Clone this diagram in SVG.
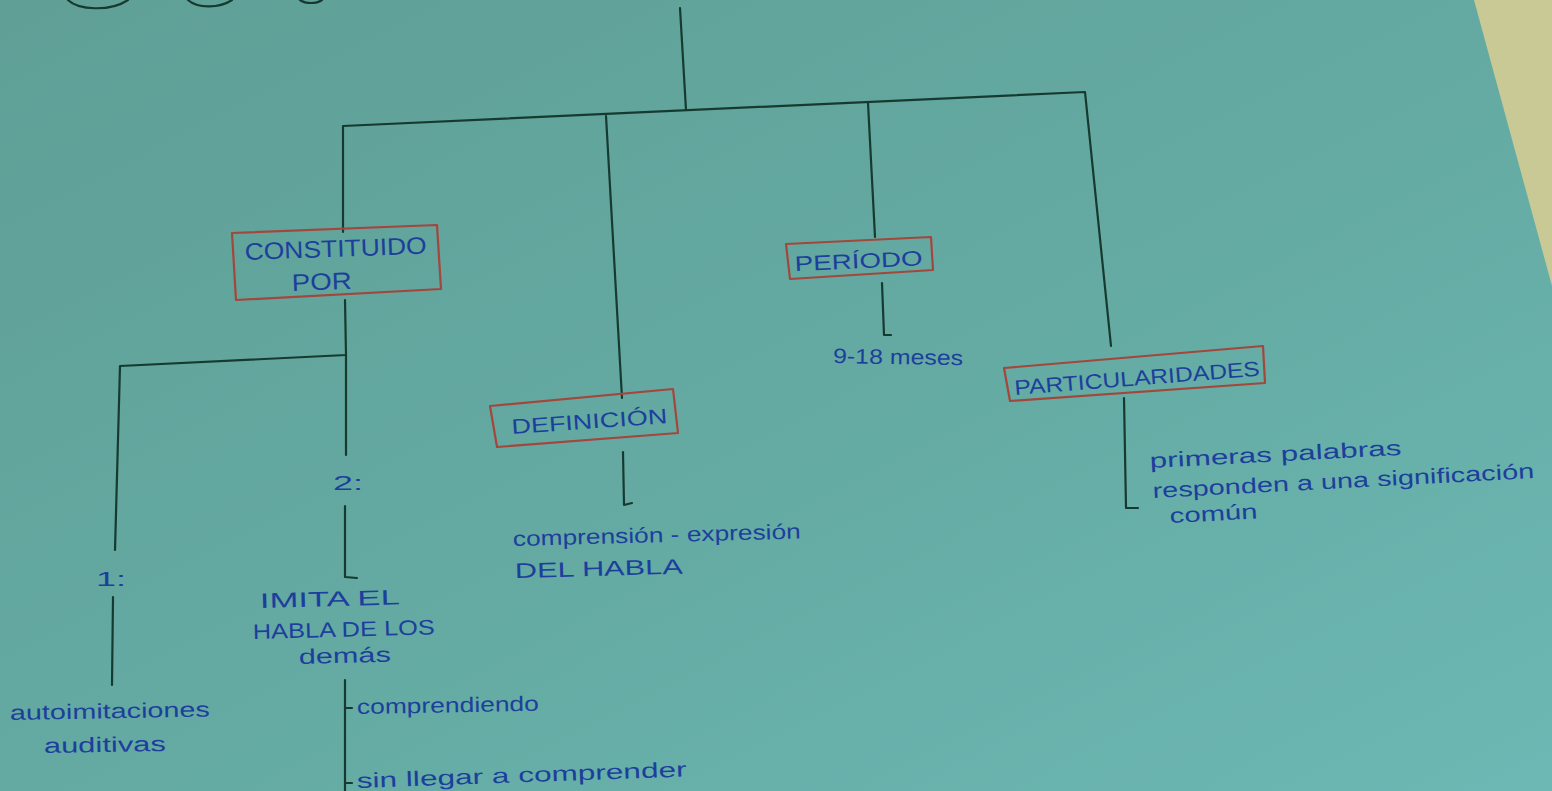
<svg xmlns="http://www.w3.org/2000/svg" width="1552" height="791" viewBox="0 0 1552 791">
<defs>
<linearGradient id="paper" x1="0" y1="0" x2="1" y2="1">
<stop offset="0" stop-color="#5f9f96"/>
<stop offset="0.6" stop-color="#65aca5"/>
<stop offset="1" stop-color="#6db8b4"/>
</linearGradient>
<style>
.ln{fill:none;stroke:#163a30;stroke-width:2.2;stroke-linecap:round;stroke-linejoin:round}
.box{fill:none;stroke:#a3463c;stroke-width:2.2;stroke-linejoin:round}
.t{font-family:"Liberation Sans",Arial,sans-serif;fill:#1d3f9c;font-size:21px}
.tb{font-family:"Liberation Sans",Arial,sans-serif;fill:#1d3f9c;font-size:24px}
</style>
</defs>
<rect x="0" y="0" width="1552" height="791" fill="url(#paper)"/>
<polygon points="1474,0 1552,0 1552,286" fill="#c8c994"/>
<g id="title-remnant" class="ln">
<path d="M68,0 C78,10 110,12 128,0"/>
<path d="M188,0 C198,9 220,8 232,0"/>
<path d="M300,0 C306,4 316,4 322,0"/>
</g>
<g id="connectors" class="ln">
<path d="M680,8 L686,110"/>
<path d="M343,232 L343,126 L1085,92 L1111,346"/>
<path d="M606,116 L622,398"/>
<path d="M868,103 L875,237"/>
<path d="M345,300 L346,355 L120,366 L115,550"/>
<path d="M346,355 L346,455"/>
<path d="M345,506 L345,577 L357,578"/>
<path d="M113,597 L112,685"/>
<path d="M345,680 L345,791"/>
<path d="M345,708 L352,708"/>
<path d="M345,783 L352,783"/>
<path d="M623,452 L624,505 L632,503"/>
<path d="M882,283 L884,335 L891,335"/>
<path d="M1124,398 L1126,508 L1138,508"/>
</g>
<g id="constituido">
<polygon class="box" points="232,233 437,225 441,289 236,300"/>
<text class="tb" x="245" y="260" textLength="182" lengthAdjust="spacingAndGlyphs" transform="rotate(-2 245 260)">CONSTITUIDO</text>
<text class="tb" x="292" y="291" textLength="60" lengthAdjust="spacingAndGlyphs" transform="rotate(-2 292 291)">POR</text>
</g>
<g id="periodo">
<polygon class="box" points="786,244 931,237 933,270 790,279"/>
<text class="t" x="795" y="271" textLength="128" lengthAdjust="spacingAndGlyphs" transform="rotate(-2.5 795 271)">PERÍODO</text>
</g>
<g id="definicion">
<polygon class="box" points="490,406 673,389 678,433 497,447"/>
<text class="t" x="512" y="434" textLength="156" lengthAdjust="spacingAndGlyphs" transform="rotate(-4 512 434)">DEFINICIÓN</text>
</g>
<g id="particularidades">
<polygon class="box" points="1004,368 1263,346 1265,383 1010,401"/>
<text class="t" x="1015" y="395" textLength="246" lengthAdjust="spacingAndGlyphs" transform="rotate(-4.5 1015 395)">PARTICULARIDADES</text>
</g>
<g id="primero">
<text class="t" x="96" y="586" textLength="30" lengthAdjust="spacingAndGlyphs">1:</text>
</g>
<g id="segundo">
<text class="t" x="333" y="490" textLength="30" lengthAdjust="spacingAndGlyphs">2:</text>
</g>
<g id="autoimitaciones">
<text class="t" x="10" y="720" textLength="200" lengthAdjust="spacingAndGlyphs" transform="rotate(-1 10 720)">autoimitaciones</text>
<text class="t" x="44" y="753" textLength="122" lengthAdjust="spacingAndGlyphs" transform="rotate(-1 44 753)">auditivas</text>
</g>
<g id="imita">
<text class="t" x="260" y="608" textLength="140" lengthAdjust="spacingAndGlyphs" transform="rotate(-1.5 260 608)">IMITA EL</text>
<text class="t" x="253" y="639" textLength="182" lengthAdjust="spacingAndGlyphs" transform="rotate(-1.5 253 639)">HABLA DE LOS</text>
<text class="t" x="299" y="664" textLength="92" lengthAdjust="spacingAndGlyphs" transform="rotate(-1.5 299 664)">demás</text>
</g>
<g id="comprendiendo">
<text class="t" x="357" y="714" textLength="182" lengthAdjust="spacingAndGlyphs" transform="rotate(-1 357 714)">comprendiendo</text>
</g>
<g id="sin-llegar">
<text class="t" x="357" y="788" textLength="330" lengthAdjust="spacingAndGlyphs" transform="rotate(-2 357 788)">sin llegar a comprender</text>
</g>
<g id="comprension">
<text class="t" x="513" y="546" textLength="288" lengthAdjust="spacingAndGlyphs" transform="rotate(-1.5 513 546)">comprensión - expresión</text>
<text class="t" x="515" y="578" textLength="168" lengthAdjust="spacingAndGlyphs" transform="rotate(-1.5 515 578)">DEL HABLA</text>
</g>
<g id="meses">
<text class="t" x="833" y="363" textLength="130" lengthAdjust="spacingAndGlyphs" transform="rotate(1 833 363)">9-18 meses</text>
</g>
<g id="primeras">
<text class="t" x="1150" y="468" textLength="252" lengthAdjust="spacingAndGlyphs" transform="rotate(-3 1150 468)">primeras palabras</text>
<text class="t" x="1153" y="498" textLength="382" lengthAdjust="spacingAndGlyphs" transform="rotate(-3 1153 498)">responden a una significación</text>
<text class="t" x="1170" y="523" textLength="88" lengthAdjust="spacingAndGlyphs" transform="rotate(-3 1170 523)">común</text>
</g>
</svg>
